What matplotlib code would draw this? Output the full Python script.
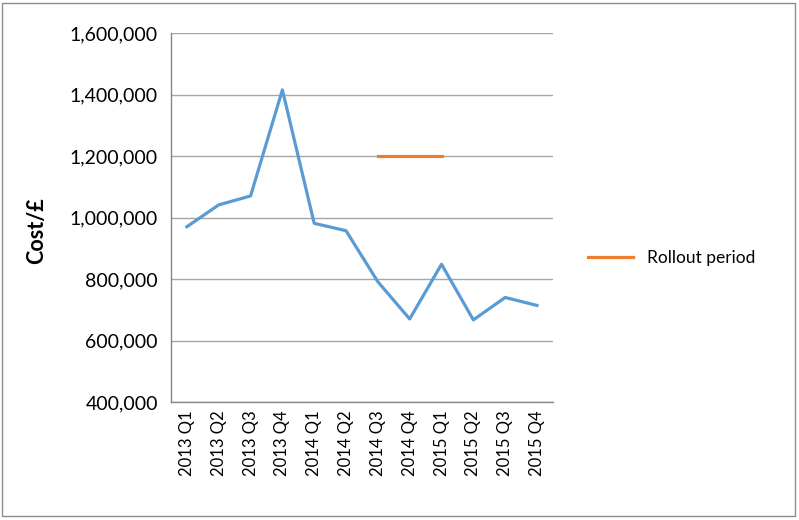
import matplotlib
matplotlib.use("Agg")
import matplotlib.pyplot as plt
import numpy as np
from matplotlib.patches import Rectangle

# --- dados ---
trimestres = ["2013 Q1", "2013 Q2", "2013 Q3", "2013 Q4",
              "2014 Q1", "2014 Q2", "2014 Q3", "2014 Q4",
              "2015 Q1", "2015 Q2", "2015 Q3", "2015 Q4"]
custo = [971000, 1042000, 1071000, 1416000,
         982000, 958000, 792000, 671000,
         849000, 668000, 741000, 715000]
# periodo de rollout (so entre 2014 Q3 e 2015 Q1)
rollout = [np.nan] * 6 + [1200000, 1200000, 1200000] + [np.nan] * 3

AZUL = "#5B9BD5"
LARANJA = "#ED7D31"
CINZA = "#A6A6A6"

fig = plt.figure(figsize=(7.99, 5.2), dpi=100)
ax = fig.add_axes([0.214, 0.2263, 0.478, 0.7097])

x = np.arange(len(trimestres))
ax.plot(x, custo, color=AZUL, lw=2.3, solid_joinstyle="round")
ax.plot(x, rollout, color=LARANJA, lw=2.3, label="Rollout period")

ax.set_xlim(-0.5, len(trimestres) - 0.5)
ax.set_ylim(400000, 1600000)
ax.set_yticks(np.arange(400000, 1600001, 200000))
ax.set_yticklabels([f"{v:,.0f}" for v in ax.get_yticks()],
                   fontsize=14, family="Lato")
ax.set_xticks(x)
ax.set_xticklabels(trimestres, rotation=90, fontsize=12, family="Lato")
ax.tick_params(axis="y", length=0, pad=9.5)
ax.tick_params(axis="x", length=0, pad=6)

ax.grid(axis="y", color=CINZA, lw=1)
ax.set_axisbelow(True)
for s in ["top", "right"]:
    ax.spines[s].set_visible(False)
for s in ["left", "bottom"]:
    ax.spines[s].set_color("#868686")
    ax.spines[s].set_linewidth(1)

ax.set_ylabel("Cost/£", fontsize=15.5, fontweight="bold", family="Lato")
ax.yaxis.set_label_coords(-0.325, 0.464)

ax.legend(loc="center left", bbox_to_anchor=(1.05, 0.39), frameon=False,
          prop={"family": "Lato", "size": 12.5}, handlelength=2.6,
          handletextpad=0.8)

# borda externa do grafico
fig.patches.append(Rectangle((0.003, 0.008), 0.992, 0.986, transform=fig.transFigure,
                             fill=False, edgecolor="#8c8c8c", lw=1))

fig.savefig("out.png", dpi=100)
